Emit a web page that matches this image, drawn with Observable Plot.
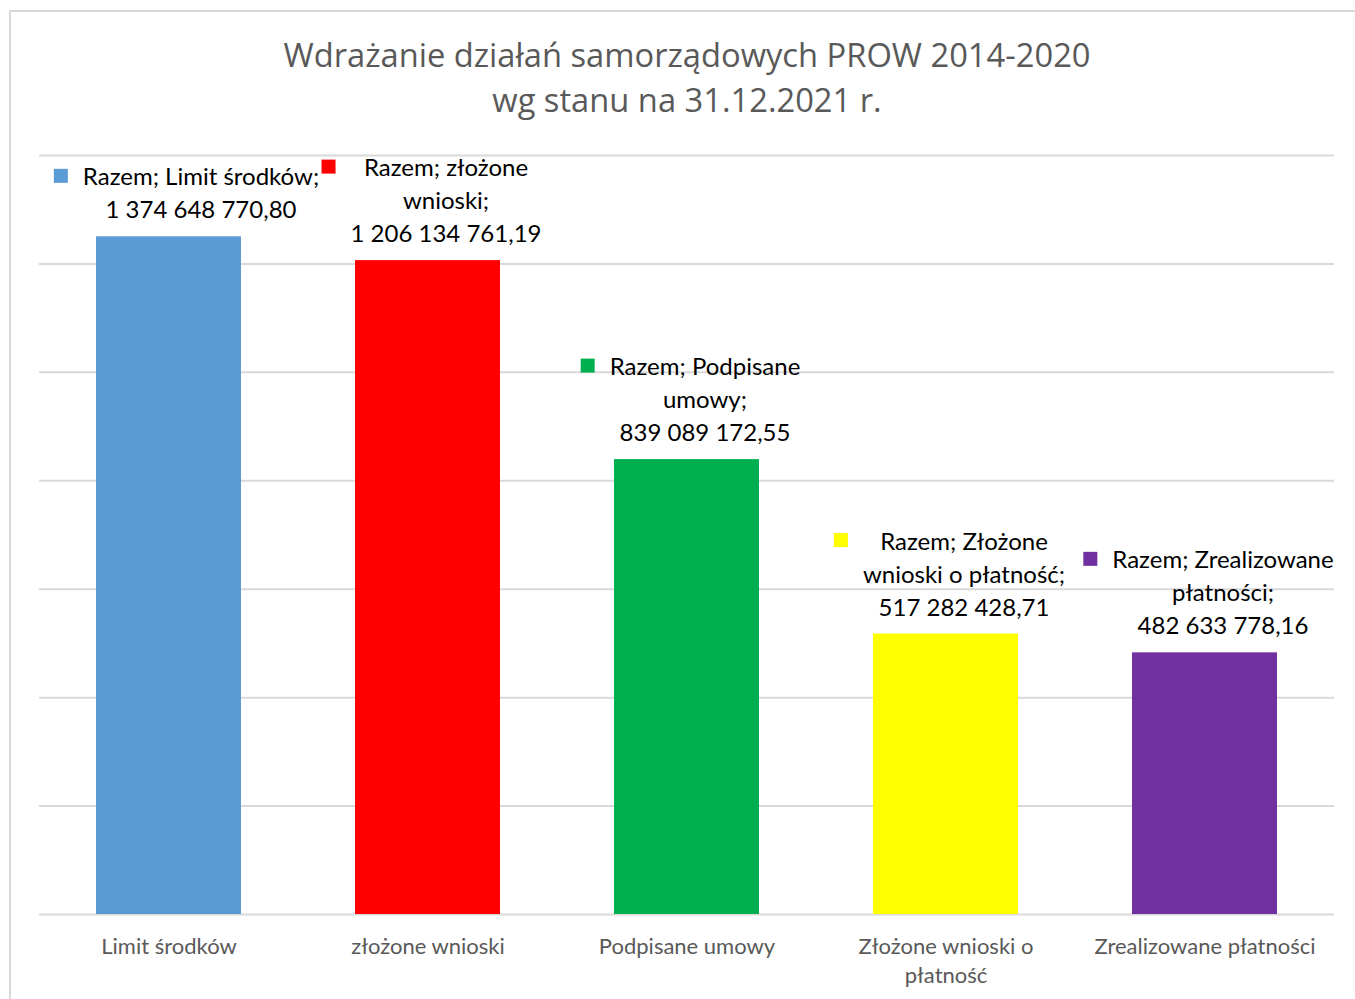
<!DOCTYPE html>
<html>
<head>
<meta charset="utf-8">
<script src="https://cdn.jsdelivr.net/npm/d3@7"></script>
<script src="https://cdn.jsdelivr.net/npm/@observablehq/plot@0.6"></script>
<style>
  html, body { margin: 0; padding: 0; background: #fff; }
  #wrap { position: relative; width: 1355px; height: 999px; overflow: hidden; }
  #frame { position: absolute; left: 9px; top: 10px; width: 1400px; height: 1100px;
           border-left: 2px solid #d9d9d9; border-top: 2px solid #d9d9d9; box-sizing: border-box; }
  #title { position: absolute; left: 9px; width: 1356px; top: 32px; text-align: center;
           font-family: "Open Sans", sans-serif; font-size: 32.7px; line-height: 45px; color: #595959; }
  #chart { position: absolute; left: 0; top: 0; }
</style>
</head>
<body>
<div id="wrap">
  <div id="frame"></div>
  <div id="chart"></div>
  <div id="title">Wdrażanie działań samorządowych PROW 2014-2020<br>wg stanu na 31.12.2021 r.</div>
</div>
<script>
const categories = ["Limit środków", "złożone wnioski", "Podpisane umowy", "Złożone wnioski o płatność", "Zrealizowane płatności"];
const amounts = [1374648770.80, 1206134761.19, 839089172.55, 517282428.71, 482633778.16];
// bar heights as drawn in the picture (first bar is drawn lower than its label)
const barHeights = [1250000000, 1206134761.19, 839089172.55, 517282428.71, 482633778.16];
const colors = ["#5b9bd5", "#ff0000", "#00b050", "#ffff00", "#7030a0"];
const yTicks = [0, 200000000, 400000000, 600000000, 800000000, 1000000000, 1200000000, 1400000000];
const labelLines = [
  ["Razem; Limit środków;"],
  ["Razem; złożone", "wnioski;"],
  ["Razem; Podpisane", "umowy;"],
  ["Razem; Złożone", "wnioski o płatność;"],
  ["Razem; Zrealizowane", "płatności;"]
];
const tickText = ["Limit środków", "złożone wnioski", "Podpisane umowy", "Złożone wnioski o\npłatność", "Zrealizowane płatności"];

const plFormat = d3.formatLocale({decimal: ",", thousands: " ", grouping: [3], currency: ["", ""]}).format(",.2f");

const data = categories.map((c, i) => ({
  cat: c, h: barHeights[i], color: colors[i],
  label: labelLines[i].concat([plFormat(amounts[i])]).join("\n"),
  lines: labelLines[i].concat([plFormat(amounts[i])])
}));

const LABEL_FONT = "Lato, sans-serif";
const LABEL_SIZE = 24;
const ctx = document.createElement("canvas").getContext("2d");
ctx.font = `${LABEL_SIZE}px Lato`;
const lineH = 33;

const marks = [
  Plot.gridY(yTicks, {stroke: "#d9d9d9", strokeOpacity: 1, strokeWidth: 2}),
  Plot.barY(data, {x: "cat", y: "h", fill: "color"}),
  Plot.axisX({tickSize: 0, tickPadding: 19, fontSize: 22, fill: "#595959", label: null,
              fontFamily: "Lato, sans-serif", tickFormat: (d) => tickText[categories.indexOf(d)], lineHeight: 1.32})
];

data.forEach((d, i) => {
  const dx = i === 0 ? 32 : 18;
  const w = d3.max(d.lines, t => ctx.measureText(t).width);
  const n = d.lines.length;
  marks.push(Plot.text([d], {x: "cat", y: "h", text: "label", dx, dy: -29 - (n - 1) * lineH / 2,
    lineAnchor: "middle", lineHeight: lineH / LABEL_SIZE, fontSize: LABEL_SIZE, fontFamily: LABEL_FONT, fill: "#000"}));
  marks.push(Plot.dot([d], {x: "cat", y: "h", symbol: "square", r: 7.9, fill: "color", stroke: null,
    dx: dx - w / 2 - 22, dy: -28 - (n - 1) * lineH}));
});

const chart = Plot.plot({
  width: 1355, height: 999,
  marginTop: 155, marginBottom: 85, marginLeft: 39, marginRight: 21,
  x: {domain: categories, paddingInner: 0.44, paddingOuter: 0.22, label: null},
  y: {domain: [0, 1400000000], axis: null},
  color: {type: "identity"},
  style: {background: "transparent", fontFamily: LABEL_FONT},
  marks
});
document.getElementById("chart").appendChild(chart);
</script>
</body>
</html>
